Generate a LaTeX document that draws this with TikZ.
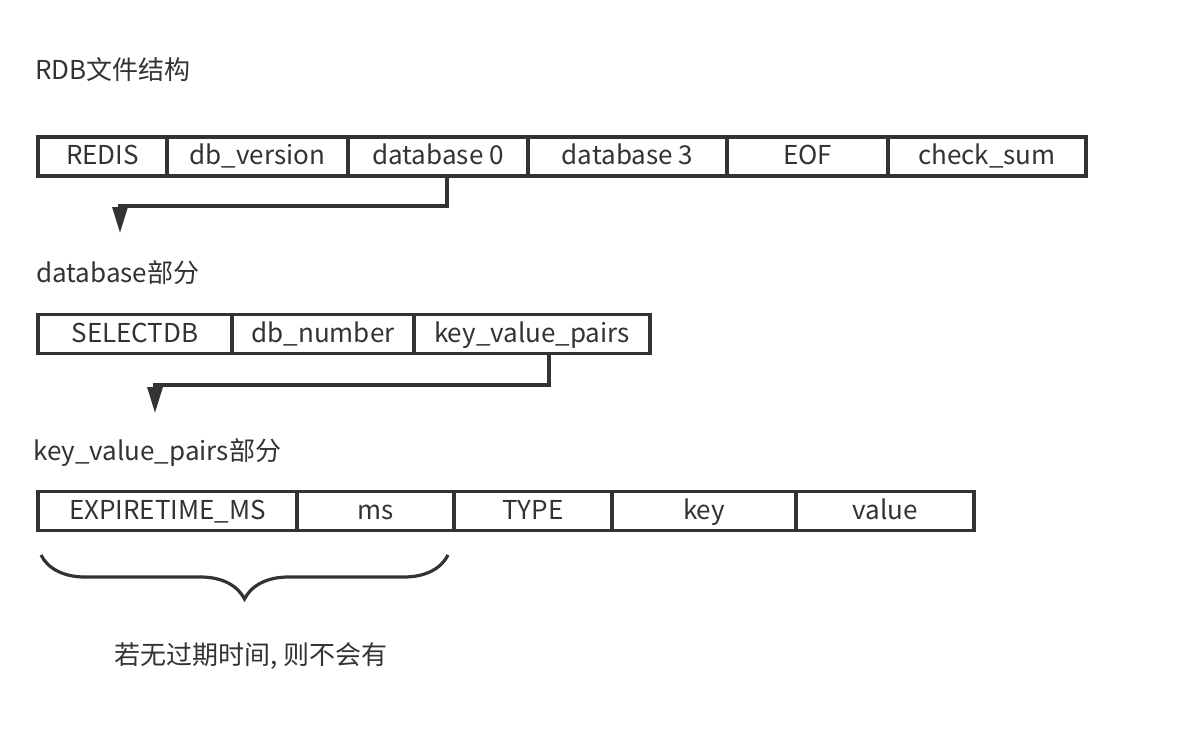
\documentclass[tikz,border=0pt]{standalone}
\usepackage{fontspec}
\setmainfont{Noto Sans CJK SC}
\usetikzlibrary{positioning,arrows.meta,decorations.pathreplacing}
\definecolor{ink}{HTML}{333333}

\begin{document}
\begin{tikzpicture}[x=1pt,y=-1pt,
		font=\fontsize{26}{30}\selectfont, text=ink,
		cell/.style={draw=ink, line width=3.2pt, minimum height=39pt, inner sep=0pt, outer sep=0pt, text height=20pt, text depth=4pt},
		title/.style={anchor=west, inner sep=0pt},
		flow/.style={draw=ink, line width=3.2pt, -{Triangle[width=15pt,length=26pt]}}]
					\useasboundingbox (0,0) rectangle (1204,734);
					
					\node[title]                               (rdb) at (35,70) {RDB文件结构};
					\node[cell, minimum width=129pt, anchor=west]                               (redis) at (38,156.5) {REDIS};
					\node[cell, minimum width=181pt, right=0pt of redis]                               (ver) {db\_version};
					\node[cell, minimum width=180pt, right=0pt of ver]                               (db0) {database 0};
					\node[cell, minimum width=199pt, right=0pt of db0]                               (db3) {database 3};
					\node[cell, minimum width=161pt, right=0pt of db3]                               (eof) {EOF};
					\node[cell, minimum width=198pt, right=0pt of eof]                               (sum) {check\_sum};
					
					\node[title]                               (dbpart) at (36,273) {database部分};
					\node[cell, minimum width=194pt, anchor=west]                               (sel) at (38,334) {SELECTDB};
					\node[cell, minimum width=182pt, right=0pt of sel]                               (num) {db\_number};
					\node[cell, minimum width=236pt, right=0pt of num]                               (kvp) {key\_value\_pairs};
					
					\node[title]                               (kvpart) at (33,453) {key\_value\_pairs部分};
					\node[cell, minimum width=259pt, anchor=west]                               (exp) at (38,511) {EXPIRETIME\_MS};
					\node[cell, minimum width=157pt, right=0pt of exp]                               (ms) {ms};
					\node[cell, minimum width=158pt, right=0pt of ms]                               (type) {TYPE};
					\node[cell, minimum width=184pt, right=0pt of type]                               (key) {key};
					\node[cell, minimum width=178pt, right=0pt of key]                               (val) {value};
					
					\node                               (note) at (251,656) {若无过期时间, 则不会有};
					
					\coordinate (t1) at (120,233);
					\coordinate (t2) at (155,413);
					\draw[flow] (db0.south -| 447,0) |- (120,206) -- (t1);
					\draw[flow] (kvp.south -| 549,0) |- (155,385) -- (t2);
					
					\draw[draw=ink, line width=3.2pt, decorate, decoration={brace, mirror, amplitude=44pt}]
						(41,555) -- (448,555);
				\end{tikzpicture}
\end{document}
